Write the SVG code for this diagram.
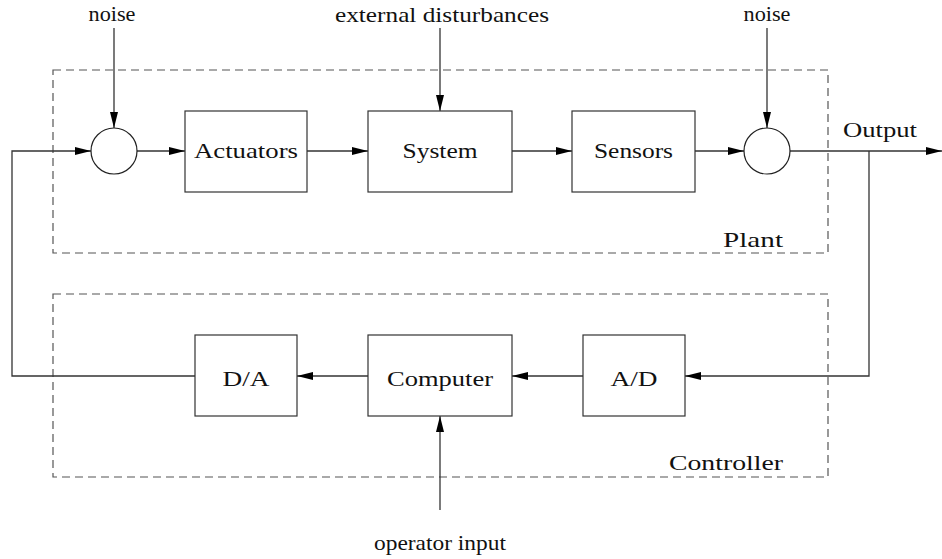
<svg xmlns="http://www.w3.org/2000/svg" width="942" height="559" viewBox="0 0 942 559">
  <defs>
    <marker id="arrow" viewBox="0 0 16 8" refX="16" refY="4" markerWidth="16" markerHeight="8" markerUnits="userSpaceOnUse" orient="auto">
      <path d="M0,0 L16,4 L0,8 Z" fill="#000"/>
    </marker>
  </defs>
  <style>
    .box { fill: #fff; stroke: #333; stroke-width: 1.2; }
    .sum { fill: #fff; stroke: #222; stroke-width: 1.2; }
    .group { fill: none; stroke: #555; stroke-width: 1.2; stroke-dasharray: 8 5; }
    .wire { fill: none; stroke: #333; stroke-width: 1.3; }
    .arr { marker-end: url(#arrow); }
    text { font-family: 'Liberation Serif', 'DejaVu Serif', serif; font-size: 22px; fill: #111; }
    .c { text-anchor: middle; }
  </style>
  <rect width="942" height="559" fill="#fff"/>

  <!-- dashed grouping frames -->
  <g id="plant">
    <rect class="group" x="53" y="70" width="775" height="183"/>
    <text x="723" y="247" textLength="60" lengthAdjust="spacingAndGlyphs">Plant</text>
  </g>
  <g id="controller">
    <rect class="group" x="53" y="294" width="775" height="183"/>
    <text x="669" y="470" textLength="114" lengthAdjust="spacingAndGlyphs">Controller</text>
  </g>

  <!-- connectors -->
  <g id="connectors">
    <path class="wire arr" d="M114,28 V128"/>
    <path class="wire arr" d="M440,28 V111"/>
    <path class="wire arr" d="M767,28 V128"/>
    <path class="wire arr" d="M137,151 H185"/>
    <path class="wire arr" d="M307,151 H368"/>
    <path class="wire arr" d="M512,151 H572"/>
    <path class="wire arr" d="M695,151 H744"/>
    <path class="wire arr" d="M790,151 H942"/>
    <path class="wire arr" d="M869,151 V376 H685"/>
    <path class="wire arr" d="M583,376 H512"/>
    <path class="wire arr" d="M368,376 H297"/>
    <path class="wire arr" d="M195,376 H12 V151 H91"/>
    <path class="wire arr" d="M440,510 V416"/>
  </g>

  <!-- plant blocks -->
  <g id="sum-input">
    <circle class="sum" cx="114" cy="151" r="23"/>
  </g>
  <g id="actuators">
    <rect class="box" x="185" y="111" width="122" height="81"/>
    <text class="c" x="246" y="158" textLength="104" lengthAdjust="spacingAndGlyphs">Actuators</text>
  </g>
  <g id="system">
    <rect class="box" x="368" y="111" width="144" height="81"/>
    <text class="c" x="440" y="158" textLength="75" lengthAdjust="spacingAndGlyphs">System</text>
  </g>
  <g id="sensors">
    <rect class="box" x="572" y="111" width="123" height="81"/>
    <text class="c" x="633.5" y="158" textLength="79" lengthAdjust="spacingAndGlyphs">Sensors</text>
  </g>
  <g id="sum-output">
    <circle class="sum" cx="767" cy="151" r="23"/>
  </g>

  <!-- controller blocks -->
  <g id="da">
    <rect class="box" x="195" y="335" width="102" height="81"/>
    <text class="c" x="246" y="386" textLength="47" lengthAdjust="spacingAndGlyphs">D/A</text>
  </g>
  <g id="computer">
    <rect class="box" x="368" y="335" width="144" height="81"/>
    <text class="c" x="440" y="386" textLength="106" lengthAdjust="spacingAndGlyphs">Computer</text>
  </g>
  <g id="ad">
    <rect class="box" x="583" y="335" width="102" height="81"/>
    <text class="c" x="634" y="386" textLength="47" lengthAdjust="spacingAndGlyphs">A/D</text>
  </g>

  <!-- signal labels -->
  <g id="labels">
    <text class="c" x="112" y="21" textLength="47" lengthAdjust="spacingAndGlyphs">noise</text>
    <text class="c" x="442" y="22" textLength="214" lengthAdjust="spacingAndGlyphs">external disturbances</text>
    <text class="c" x="767" y="21" textLength="47" lengthAdjust="spacingAndGlyphs">noise</text>
    <text x="843" y="137" textLength="74" lengthAdjust="spacingAndGlyphs">Output</text>
    <text class="c" x="440" y="550" textLength="132" lengthAdjust="spacingAndGlyphs">operator input</text>
  </g>
</svg>
